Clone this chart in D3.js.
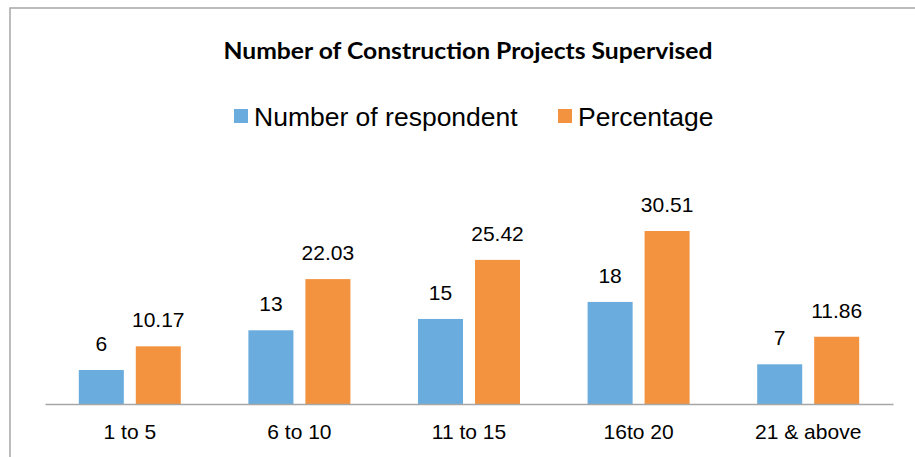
<!DOCTYPE html>
<html>
<head>
<meta charset="utf-8">
<script src="https://cdn.jsdelivr.net/npm/d3@7"></script>
<style>
  body { margin: 0; background: #fff; }
  svg { display: block; }
</style>
</head>
<body>
<div id="chart"></div>
<script>
// chart data
var categories = ["1 to 5", "6 to 10", "11 to 15", "16to 20", "21 & above"];
var seriesNames = ["Number of respondent", "Percentage"];
var respondents = [6, 13, 15, 18, 7];
var percentages = [10.17, 22.03, 25.42, 30.51, 11.86];
var colors = ["#6aacdd", "#f3933f"];

var width = 915, height = 457;

var svg = d3.select("#chart").append("svg")
	.attr("width", width)
	.attr("height", height);

// outer frame
svg.append("rect")
	.attr("x", 10).attr("y", 8)
	.attr("width", width + 20).attr("height", height + 20)
	.attr("fill", "none")
	.attr("stroke", "#a6a6a6")
	.attr("stroke-width", 1.5);

// title
svg.append("text")
	.attr("x", 468).attr("y", 59)
	.attr("text-anchor", "middle")
	.attr("font-family", "Lato, 'Open Sans', sans-serif")
	.attr("font-weight", "bold")
	.attr("font-size", 22)
	.attr("textLength", 489)
	.attr("lengthAdjust", "spacingAndGlyphs")
	.attr("fill", "#000")
	.text("Number of Construction Projects Supervised");

// legend
var legendX = [234, 558];
var legend = svg.append("g").selectAll("g")
	.data(seriesNames)
	.enter().append("g")
	.attr("transform", function(d, i){ return "translate(" + legendX[i] + ",0)"; });

legend.append("rect")
	.attr("x", 0).attr("y", 109)
	.attr("width", 14).attr("height", 14)
	.attr("fill", function(d, i){ return colors[i]; });

legend.append("text")
	.attr("x", 20).attr("y", 126)
	.attr("font-family", "'Liberation Sans', Arial, sans-serif")
	.attr("font-size", 26.5)
	.attr("fill", "#000")
	.text(function(d){ return d; });

// scales
var x0 = d3.scaleBand()
	.domain(categories)
	.range([45, 893]);

var x1 = d3.scaleBand()
	.domain(seriesNames)
	.range([0, x0.bandwidth()])
	.paddingInner(0.21)
	.paddingOuter(0.593);

var y = d3.scaleLinear()
	.domain([0, 35])
	.range([404, 404 - 35 * 5.67]);

var rows = categories.map(function(c, i){
	return { cat: c, values: [respondents[i], percentages[i]] };
});

var groups = svg.append("g").selectAll("g")
	.data(rows)
	.enter().append("g")
	.attr("transform", function(d){ return "translate(" + x0(d.cat) + ",0)"; });

var bars = groups.selectAll("g")
	.data(function(d){
		return d.values.map(function(v, i){ return { name: seriesNames[i], value: v, idx: i }; });
	})
	.enter().append("g");

bars.append("rect")
	.attr("x", function(d){ return x1(d.name); })
	.attr("y", function(d){ return y(d.value); })
	.attr("width", x1.bandwidth())
	.attr("height", function(d){ return y(0) - y(d.value); })
	.attr("fill", function(d){ return colors[d.idx]; });

bars.append("text")
	.attr("x", function(d){ return x1(d.name) + x1.bandwidth() / 2; })
	.attr("y", function(d){ return y(d.value) - 19; })
	.attr("text-anchor", "middle")
	.attr("font-family", "'Liberation Sans', Arial, sans-serif")
	.attr("font-size", 21)
	.attr("fill", "#000")
	.text(function(d){ return d.value; });

// x axis
var xAxis = svg.append("g")
	.attr("transform", "translate(0," + y(0) + ")")
	.call(d3.axisBottom(x0).tickSize(0).tickPadding(20));

xAxis.select(".domain")
	.attr("stroke", "#a6a6a6")
	.attr("stroke-width", 1.5);

xAxis.selectAll("text")
	.attr("font-family", "'Liberation Sans', Arial, sans-serif")
	.attr("font-size", 21)
	.attr("fill", "#000");
</script>
</body>
</html>
